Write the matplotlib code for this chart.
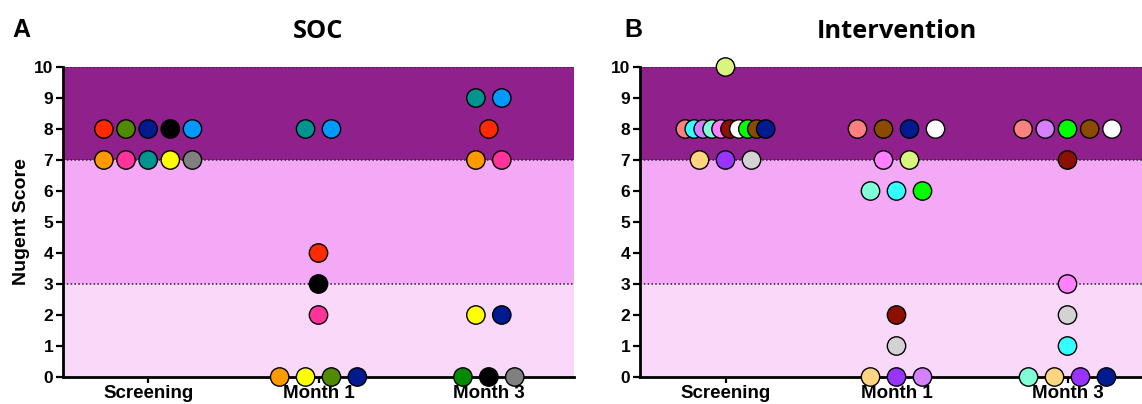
import numpy as np
import matplotlib.pyplot as plt

categories = ["Screening", "Month 1", "Month 3"]

# SOC arm: scores per timepoint, colours = patient
soc_screen_scores = [8, 8, 8, 8, 8, 7, 7, 7, 7, 7]
soc_screen_colors = ["#FF2A00", "#4F8A00", "#001A8F", "#000000", "#0099FF",
                     "#FF9900", "#FF3399", "#009490", "#FFFF00", "#808080"]
soc_m1_scores = [8, 8, 4, 3, 2, 0, 0, 0, 0]
soc_m1_colors = ["#009490", "#0099FF", "#FF2A00", "#000000", "#FF3399",
                 "#FF9900", "#FFFF00", "#4F8A00", "#001A8F"]
soc_m3_scores = [9, 9, 8, 7, 7, 2, 2, 0, 0, 0]
soc_m3_colors = ["#009490", "#0099FF", "#FF2A00", "#FF9900", "#FF3399",
                 "#FFFF00", "#001A8F", "#008A00", "#000000", "#808080"]

# Intervention arm
int_screen_scores = [10, 8, 8, 8, 8, 8, 8, 8, 8, 8, 8, 7, 7, 7]
int_screen_colors = ["#D9F57F",
                     "#FF8080", "#33FFFF", "#D580FF", "#80FFD8", "#FF80FF",
                     "#8B1000", "#FFFFFF", "#00FF00", "#8B4A00", "#001A8F",
                     "#FFD580", "#9933FF", "#D3D3D3"]
int_m1_scores = [8, 8, 8, 8, 7, 7, 6, 6, 6, 2, 1, 0, 0, 0]
int_m1_colors = ["#FF8080", "#8B4A00", "#001A8F", "#FFFFFF",
                 "#FF80FF", "#D9F57F",
                 "#80FFD8", "#33FFFF", "#00FF00",
                 "#8B1000", "#D3D3D3",
                 "#FFD580", "#9933FF", "#D580FF"]
int_m3_scores = [8, 8, 8, 8, 8, 7, 3, 2, 1, 0, 0, 0, 0]
int_m3_colors = ["#FF8080", "#D580FF", "#00FF00", "#8B4A00", "#FFFFFF",
                 "#8B1000", "#FF80FF", "#D3D3D3", "#33FFFF",
                 "#80FFD8", "#FFD580", "#9933FF", "#001A8F"]

soc = [(soc_screen_scores, soc_screen_colors), (soc_m1_scores, soc_m1_colors),
       (soc_m3_scores, soc_m3_colors)]
intv = [(int_screen_scores, int_screen_colors), (int_m1_scores, int_m1_colors),
        (int_m3_scores, int_m3_colors)]

dark = "#8F208C"
mid = "#F3A9F5"
light = "#FAD8FA"

plt.rcParams['font.family'] = ['Liberation Sans', 'DejaVu Sans']
plt.rcParams['font.weight'] = 'bold'


def spread(scores, pos):
    # prism-like scatter: points with the same score spread side by side
    scores = np.array(scores)
    xs = np.zeros(len(scores))
    for s in np.unique(scores):
        idx = np.where(scores == s)[0]
        n = len(idx)
        if n > 1:
            step = min(0.152, 0.52 / (n - 1)) if n <= 5 else 0.47 / (n - 1)
        else:
            step = 0
        xs[idx] = pos + (np.arange(n) - (n - 1) / 2) * step
    return xs


def panel(ax, groups, title):
    ax.axhspan(0, 3, color=light, zorder=0, lw=0)
    ax.axhspan(3, 7, color=mid, zorder=0, lw=0)
    ax.axhspan(7, 10, color=dark, zorder=0, lw=0)
    for yl in [3, 7, 10]:
        ax.axhline(yl, color="#222222", ls=(0, (1, 1.5)), lw=1.1, zorder=1)
    for i, (sc, col) in enumerate(groups):
        ax.scatter(spread(sc, i), sc, s=175, c=col, edgecolors="black",
                   linewidths=1.0, zorder=5, clip_on=False)
    ax.set_xlim(-0.5, 2.5)
    ax.set_ylim(0, 10)
    ax.set_yticks(range(11))
    ax.set_xticks(range(3))
    ax.set_xticklabels(categories, fontsize=13.5, fontweight='bold')
    ax.tick_params(axis='y', labelsize=12.5, width=1.6, length=5, pad=2)
    ax.tick_params(axis='x', width=1.6, length=4, pad=2)
    for lab in ax.get_yticklabels():
        lab.set_fontweight('bold')
    ax.spines['top'].set_visible(False)
    ax.spines['right'].set_visible(False)
    ax.spines['left'].set_linewidth(2)
    ax.spines['bottom'].set_linewidth(2)
    ax.spines['left'].set_zorder(4)
    ax.spines['bottom'].set_zorder(4)
    ax.set_title(title, fontsize=18.3, fontweight='bold', family='Open Sans', pad=21)


fig = plt.figure(figsize=(11.42, 4.04), dpi=100)
ax1 = fig.add_axes([63 / 1142, 27 / 404, 511 / 1142, 310 / 404])
ax2 = fig.add_axes([640 / 1142, 27 / 404, 513 / 1142, 310 / 404])

panel(ax1, soc, "SOC")
panel(ax2, intv, "Intervention")
ax1.set_ylabel("Nugent Score", fontsize=14, fontweight='bold', labelpad=3)

fig.text(12 / 1142, 1 - 30 / 404, "A", fontsize=18, fontweight='bold', va='center')
fig.text(624 / 1142, 1 - 30 / 404, "B", fontsize=18, fontweight='bold', va='center')

fig.savefig("out.png", dpi=100)
